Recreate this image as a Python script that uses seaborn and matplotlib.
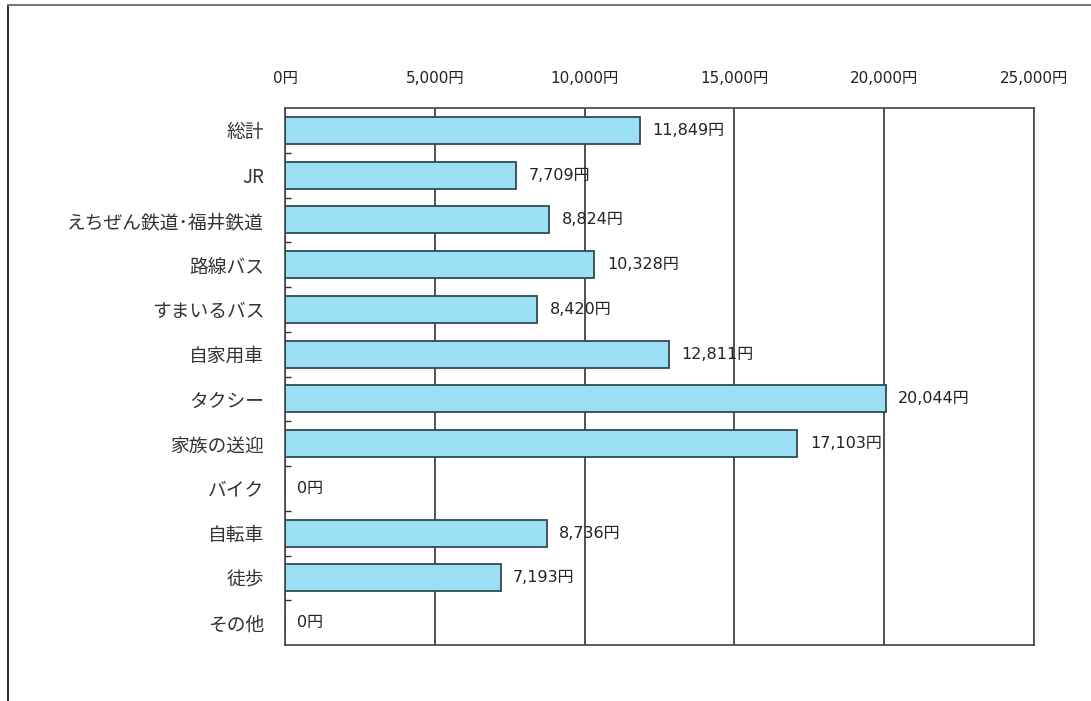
import matplotlib
matplotlib.use("Agg")
import matplotlib.pyplot as plt
import seaborn as sns
import pandas as pd
import numpy as np
from matplotlib.ticker import FixedLocator, FuncFormatter

categories = ["総計", "JR", "えちぜん鉄道･福井鉄道", "路線バス", "すまいるバス", "自家用車",
              "タクシー", "家族の送迎", "バイク", "自転車", "徒歩", "その他"]
values = [11849, 7709, 8824, 10328, 8420, 12811, 20044, 17103, 0, 8736, 7193, 0]
x_ticks = [0, 5000, 10000, 15000, 20000, 25000]

sns.set_theme(style="white")
plt.rcParams['font.family'] = ['Noto Sans CJK JP', 'DejaVu Sans']
num_family = ['DejaVu Sans', 'Noto Sans CJK JP']

df = pd.DataFrame({"cat": categories, "val": values})

fig = plt.figure(figsize=(10.91, 7.01), dpi=100)
ax = fig.add_axes([285/1091, 1-645/701, (1034-285)/1091, (645-108)/701])

sns.barplot(data=df, y="cat", x="val", orient="h", ax=ax, color="#9ADFF3",
            edgecolor="#2E4A55", linewidth=1.3, width=0.6, saturation=1)

ax.set_xlim(0, 25000)
ax.set_ylim(len(categories)-0.5, -0.5)
ax.xaxis.tick_top()
ax.xaxis.set_label_position("top")
ax.set_xticks(x_ticks)
ax.xaxis.set_major_formatter(FuncFormatter(lambda v, p: f"{int(v):,}円"))
ax.tick_params(axis="x", length=0, pad=16, labelsize=11, colors="#222222")
for t in ax.get_xticklabels():
    t.set_family(num_family)
ax.tick_params(axis="y", length=0, pad=15, labelsize=13.5, colors="#333333")
ax.yaxis.set_minor_locator(FixedLocator(np.arange(0.5, len(categories)-1, 1)))
ax.tick_params(axis="y", which="minor", direction="in", length=4, width=1, color="#333333", left=True)
ax.set_xlabel("")
ax.set_ylabel("")
ax.grid(axis="x", color="#333333", linewidth=1.2)
ax.set_axisbelow(True)
for s in ["left", "right", "top", "bottom"]:
    ax.spines[s].set_visible(True)
    ax.spines[s].set_color("#444444")
    ax.spines[s].set_linewidth(1.2)

for i, v in enumerate(values):
    ax.annotate(f"{v:,}円", xy=(v, i), xytext=(9, 0), textcoords="offset points",
                va="center", ha="left", fontsize=11.5, color="#222222", family=num_family)

# page border (scanned frame)
fig.add_artist(plt.Line2D([8/1091, 8/1091], [0, 1-5/701], transform=fig.transFigure,
                          color="#333333", linewidth=1.5))
fig.add_artist(plt.Line2D([8/1091, 1], [1-5/701, 1-5/701], transform=fig.transFigure,
                          color="#777777", linewidth=1.5))

fig.savefig("out.png", dpi=100)
